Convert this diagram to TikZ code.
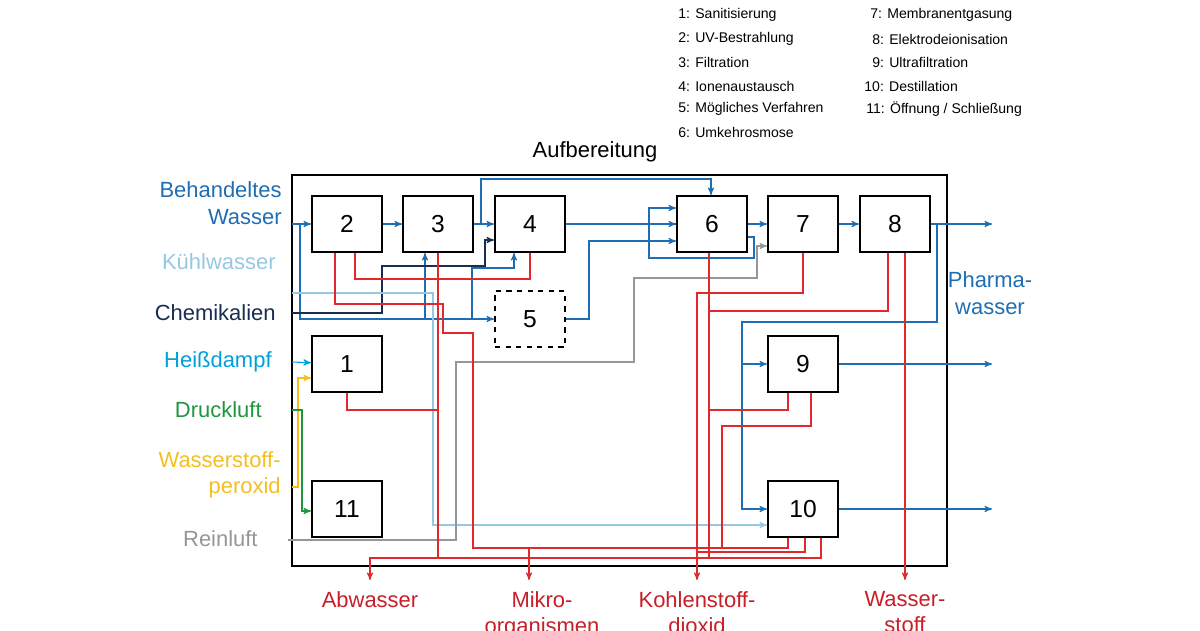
\documentclass[tikz,border=0pt]{standalone}
\usepackage{fontspec}
\setmainfont{Liberation Sans}
\usetikzlibrary{arrows,positioning}
\definecolor{wblue}{RGB}{31,110,180}
\definecolor{klblue}{RGB}{150,200,225}
\definecolor{chnavy}{RGB}{25,45,80}
\definecolor{hdcyan}{RGB}{0,160,220}
\definecolor{dlgreen}{RGB}{30,150,60}
\definecolor{wpyellow}{RGB}{245,190,30}
\definecolor{rlgray}{RGB}{150,150,150}
\definecolor{abred}{RGB}{225,40,45}
\definecolor{abtext}{RGB}{200,30,40}
\begin{document}
\begin{tikzpicture}[x=0.02cm,y=-0.02cm,>=stealth',semithick,
    stage/.style={draw,very thick,minimum width=1.4cm,minimum height=1.12cm,font=\fontsize{14}{14}\selectfont},
    inlabel/.style={align=right,anchor=east,font=\fontsize{12.5}{15}\selectfont},
    outlabel/.style={align=center,anchor=north,text=abtext,font=\fontsize{12.5}{15}\selectfont},
    legend/.style={anchor=west,font=\fontsize{8}{9}\selectfont}]
    \useasboundingbox (0,0) rectangle (1200,630);

    % frame and title
    \draw[very thick] (292,175) rectangle (947,566);
    \node (title) at (595,152) {\fontsize{12.5}{15}\selectfont Aufbereitung};

    % legend
    \node[legend] (l1) at (672,15) {1: Sanitisierung};
    \node[legend] (l2) at (672,39) {2: UV-Bestrahlung};
    \node[legend] (l3) at (672,62) {3: Filtration};
    \node[legend] (l4) at (672,86) {4: Ionenaustausch};
    \node[legend] (l5) at (672,109) {5: Mögliches Verfahren};
    \node[legend] (l6) at (672,132) {6: Umkehrosmose};
    \node[legend] (l7) at (864,15) {7: Membranentgasung};
    \node[legend] (l8) at (866,39) {8: Elektrodeionisation};
    \node[legend] (l9) at (866,62) {9: Ultrafiltration};
    \node[legend] (l10) at (858,86) {10: Destillation};
    \node[legend] (l11) at (860,109) {11: Öffnung / Schließung};

    % process steps
    \node[stage] (b2) at (347,224) {2};
    \node[stage] (b3) at (438,224) {3};
    \node[stage] (b4) at (530,224) {4};
    \node[stage] (b6) at (712,224) {6};
    \node[stage] (b7) at (803,224) {7};
    \node[stage] (b8) at (895,224) {8};
    \node[stage,dashed] (b5) at (530,319) {5};
    \node[stage] (b1) at (347,364) {1};
    \node[stage] (b9) at (803,364) {9};
    \node[stage] (b11) at (347,509) {11};
    \node[stage] (b10) at (803,509) {10};

    % inputs
    \node[inlabel,text=wblue] (inW) at (288,203) {Behandeltes\\Wasser};
    \node[inlabel,text=klblue] (inK) at (282,262) {Kühlwasser};
    \node[inlabel,text=chnavy] (inC) at (282,313) {Chemikalien};
    \node[inlabel,text=hdcyan] (inH) at (278,362) {Heißdampf};
    \node[inlabel,text=dlgreen] (inD) at (268,410) {Druckluft};
    \node[inlabel,text=wpyellow] (inP) at (287,475) {Wasserstoff-\\peroxid};
    \node[inlabel,text=rlgray] (inR) at (264,539) {Reinluft};

    % outputs
    \node[outlabel] (oA) at (370,585) {Abwasser};
    \node[outlabel] (oM) at (542,585) {Mikro-\\organismen};
    \node[outlabel] (oK) at (697,585) {Kohlenstoff-\\dioxid};
    \node[outlabel] (oH) at (905,585) {Wasser-\\stoff};
    \node[align=center,text=wblue,font=\fontsize{12.5}{15}\selectfont] (oP) at (990,293) {Pharma-\\wasser};

    % free ends
    \coordinate (cW) at (292,224);
    \coordinate (cK) at (292,293);
    \coordinate (cC) at (292,313);
    \coordinate (cH) at (292,362);
    \coordinate (cD) at (292,410);
    \coordinate (cP) at (292,487);
    \coordinate (cR) at (288,540);
    \coordinate (e8) at (992,224);
    \coordinate (e9) at (992,364);
    \coordinate (e10) at (992,509);
    \coordinate (aA) at (370,580);
    \coordinate (aM) at (529,580);
    \coordinate (aK) at (697,580);
    \coordinate (aH) at (905,580);

    % treated water
    \draw[wblue,->] (cW) -- (b2);
    \draw[wblue,->] (300,224) |- (b5.west);
    \draw[wblue,->] (425,319) -- (b3.south -| 425,0);
    \draw[wblue,->] (472,319) |- (514,268) -- (b4.south -| 514,0);
    \draw[wblue,->] (b2) -- (b3);
    \draw[wblue,->] (b3) -- (b4);
    \draw[wblue,->] (481,224) |- (711,179) -- (b6.north -| 711,0);
    \draw[wblue,->] (b4) -- (b6);
    \draw[wblue,->] (b6.east |- 0,237) -| (754,258) -| (649,208) -- (b6.west |- 0,208);
    \draw[wblue] (649,224) -- (b6.west);
    \draw[wblue,->] (b5.east) -| (589,241) -- (b6.west |- 0,241);
    \draw[wblue,->] (b6) -- (b7);
    \draw[wblue,->] (b7) -- (b8);
    \draw[wblue,->] (b8) -- (e8);
    \draw[wblue,->] (937,224) |- (742,322) |- (b9.west);
    \draw[wblue,->] (742,364) |- (b10.west);
    \draw[wblue,->] (b9) -- (e9);
    \draw[wblue,->] (b10) -- (e10);

    % other media
    \draw[chnavy,->] (cC) -| (382,266) -| (485,240) -- (b4.west |- 0,240);
    \draw[klblue,->] (cK) -| (433,525) -- (b10.west |- 0,525);
    \draw[rlgray,->] (cR) -| (456,362) -| (634,278) -| (757,246) -- (b7.west |- 0,246);
    \draw[hdcyan,->] (cH) -- (b1);
    \draw[wpyellow,->] (cP) -| (298,378) -- (b1.west |- 0,378);
    \draw[dlgreen,->] (cD) -| (302,511) -- (b11.west |- 0,511);

    % residues
    \draw[abred] (b2.south -| 355,0) |- (530,279) -- (b4.south);
    \draw[abred] (b2.south -| 335,0) |- (443,304) |- (473,333) |- (788,548) -- (b10.south -| 788,0);
    \draw[abred,->] (529,548) -- (aM);
    \draw[abred] (b3.south) -- (438,558);
    \draw[abred] (b1.south) |- (438,410);
    \draw[abred,->] (b10.south -| 821,0) |- (370,558) -- (aA);
    \draw[abred] (b6.south -| 709,0) -- (709,558);
    \draw[abred,->] (b7.south) |- (697,293) -- (aK);
    \draw[abred] (697,552) -| (b10.south -| 805,0);
    \draw[abred] (b8.south -| 888,0) |- (709,311);
    \draw[abred,->] (b8.south -| 905,0) -- (aH);
    \draw[abred] (b9.south -| 788,0) |- (709,410);
    \draw[abred] (b9.south -| 811,0) |- (722,426) -- (722,548);
\end{tikzpicture}
\end{document}
